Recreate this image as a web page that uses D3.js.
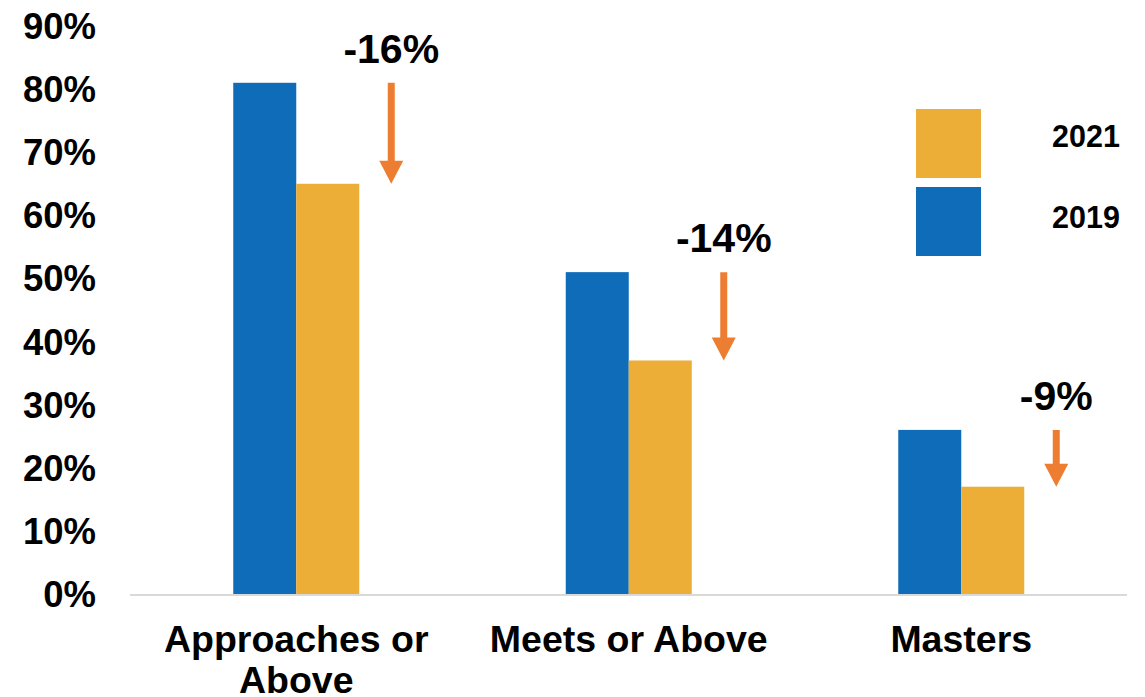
<!DOCTYPE html>
<html>
<head>
<meta charset="utf-8">
<script src="https://cdn.jsdelivr.net/npm/d3@7"></script>
<style>
  body { margin: 0; background: #fff; }
  svg text { font-family: "Liberation Sans", Arial, sans-serif; font-weight: bold; fill: #000; }
</style>
</head>
<body>
<div id="graf"></div>
<script>
// datos
const categorias = ['Approaches or Above', 'Meets or Above', 'Masters']
const lineasCat = [['Approaches or', 'Above'], ['Meets or Above'], ['Masters']]
const valores2019 = [81, 51, 26]
const valores2021 = [65, 37, 17]
const cambios = ['-16%', '-14%', '-9%']
const ticksY = [0, 10, 20, 30, 40, 50, 60, 70, 80, 90]
const series = ['2021', '2019']

const colorSerie = { '2019': '#0F6CB9', '2021': '#ECAE36' }
const naranja = '#ED7D31'

const ancho = 1145, alto = 697

svg = d3.select('#graf').append('svg')
  .attr('width', ancho)
  .attr('height', alto)

// escalas
y = d3.scaleLinear().domain([0, 90]).range([594, 26])
x = d3.scaleBand().domain(categorias).range([130, 1127.5])
anchoBarra = 63

// barras
const datos = categorias.map((c, i) => ({ cat: c, v19: valores2019[i], v21: valores2021[i], cambio: cambios[i], lineas: lineasCat[i] }))

svg.selectAll('rect.b19').data(datos).enter()
  .append('rect').attr('class', 'b19')
  .attr('x', d => x(d.cat) + x.bandwidth() / 2 - anchoBarra)
  .attr('y', d => y(d.v19))
  .attr('width', anchoBarra)
  .attr('height', d => y(0) - y(d.v19))
  .attr('fill', colorSerie['2019'])

svg.selectAll('rect.b21').data(datos).enter()
  .append('rect').attr('class', 'b21')
  .attr('x', d => x(d.cat) + x.bandwidth() / 2)
  .attr('y', d => y(d.v21))
  .attr('width', anchoBarra)
  .attr('height', d => y(0) - y(d.v21))
  .attr('fill', colorSerie['2021'])

// eje x (linea)
svg.append('line')
  .attr('x1', 130).attr('x2', 1127)
  .attr('y1', y(0) + 1).attr('y2', y(0) + 1)
  .attr('stroke', '#d9d9d9').attr('stroke-width', 2)

// etiquetas del eje y
svg.selectAll('text.ty').data(ticksY).enter()
  .append('text').attr('class', 'ty')
  .attr('x', 96)
  .attr('y', d => y(d) + 13)
  .attr('text-anchor', 'end')
  .style('font-size', '36.5px')
  .text(d => d + '%')

// etiquetas de categorias
datos.forEach(d => {
  const t = svg.append('text')
    .attr('text-anchor', 'middle')
    .style('font-size', '37.5px')
  d.lineas.forEach((l, j) => {
    t.append('tspan')
      .attr('x', x(d.cat) + x.bandwidth() / 2)
      .attr('y', 652 + j * 41)
      .text(l)
  })
})

// flechas y cambios
const punta = 23, anchoPunta = 12, anchoAsta = 3.5
datos.forEach(d => {
  const cx = x(d.cat) + x.bandwidth() / 2 + anchoBarra + 32
  const y0 = y(d.v19), y1 = y(d.v21)
  const p = d3.path()
  p.moveTo(cx - anchoAsta, y0)
  p.lineTo(cx + anchoAsta, y0)
  p.lineTo(cx + anchoAsta, y1 - punta)
  p.lineTo(cx + anchoPunta, y1 - punta)
  p.lineTo(cx, y1)
  p.lineTo(cx - anchoPunta, y1 - punta)
  p.lineTo(cx - anchoAsta, y1 - punta)
  p.closePath()
  svg.append('path').attr('d', p.toString()).attr('fill', naranja)

  svg.append('text')
    .attr('x', cx)
    .attr('y', y0 - 20)
    .attr('text-anchor', 'middle')
    .style('font-size', '41px')
    .text(d.cambio)
})

// leyenda
series.forEach((s, i) => {
  svg.append('rect')
    .attr('x', 916)
    .attr('y', 109 + i * 78)
    .attr('width', 65)
    .attr('height', 69)
    .attr('fill', colorSerie[s])
  svg.append('text')
    .attr('x', 1052)
    .attr('y', 147 + i * 81)
    .style('font-size', '30.5px')
    .text(s)
})
</script>
</body>
</html>
